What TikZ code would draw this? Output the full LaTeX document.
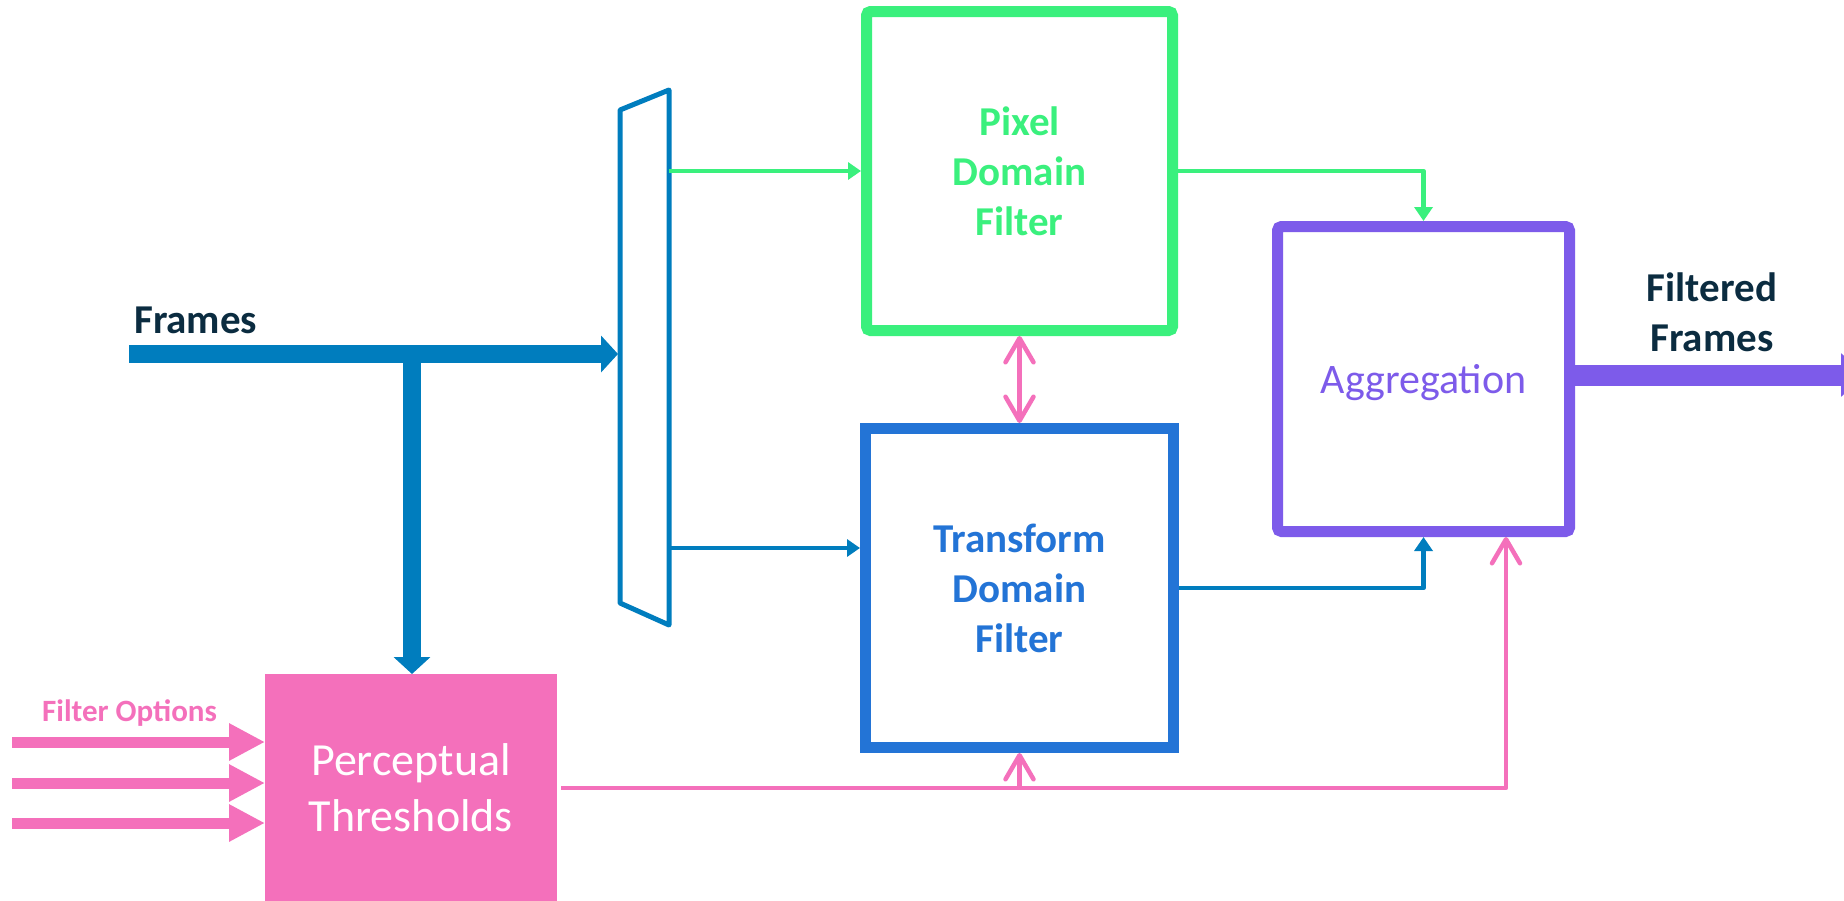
\documentclass[tikz,border=0pt]{standalone}
\usepackage{fontspec}
\setmainfont{Carlito}
\usetikzlibrary{arrows.meta}

\definecolor{cMain}{HTML}{007DBE}
\definecolor{cTf}{HTML}{2374D6}
\definecolor{cGreen}{HTML}{3AF07D}
\definecolor{cPurple}{HTML}{7D5BEA}
\definecolor{cPink}{HTML}{F470BB}
\definecolor{cNavy}{HTML}{0B2C40}

\tikzset{pinkbarb/.tip={Straight Barb[length=24pt,width=28pt,round]}}

\begin{document}
\begin{tikzpicture}[x=1pt,y=-1pt,
  filterbox/.style={draw, line width=11pt, fill=white, inner sep=0pt,
    minimum width=306pt, minimum height=319pt, align=center},
  boldtext/.style={font=\bfseries\fontsize{41}{50}\selectfont},
  thinline/.style={line width=4.5pt, line join=round},
  smalltip/.style={-{Triangle[length=14pt,width=18pt]}},
  fatarrow/.style={line width=18pt, -{Triangle[length=17pt,width=36pt]}}]

\useasboundingbox (0,0) rectangle (1844,900);
\clip (0,0) rectangle (1844,900);
\fill[white] (0,0) rectangle (1844,900);

% --- blocks ---
\node[filterbox, draw=cGreen, rounded corners=4pt, text=cGreen, boldtext]
  (pdf) at (1019.5,171) {Pixel\\Domain\\Filter};
\node[filterbox, draw=cTf, text=cTf, boldtext, minimum width=308pt]
  (tdf) at (1019.5,588) {Transform\\Domain\\Filter};
\node[filterbox, draw=cPurple, rounded corners=4pt, text=cPurple,
  minimum width=292pt, minimum height=305pt, text depth=0pt,
  font=\fontsize{42}{50}\selectfont]
  (agg) at (1423.5,379) {Aggregation};
\node[fill=cPink, text=white, align=center, inner sep=0pt, outer sep=0pt,
  minimum width=292pt, minimum height=228pt,
  font=\fontsize{46}{56}\selectfont]
  (pt) at (411,788) {Perceptual\\Thresholds};

% --- labels ---
\node[anchor=base west, inner sep=0pt, text=cNavy, boldtext]
  (lblin) at (134,333) {Frames};
\node[inner sep=0pt, text=cNavy, boldtext, align=center]
  (lblout) at (1712,312) {Filtered\\Frames};
\node[anchor=base west, inner sep=0pt, text=cPink,
  font=\bfseries\fontsize{31}{37}\selectfont]
  (lblopt) at (42,721) {Filter Options};

% --- splitter ---
\coordinate (mTL) at (620,110);
\coordinate (mTR) at (669,90);
\coordinate (mBR) at (669,625);
\coordinate (mBL) at (620,603);
\draw[cMain, line width=5pt, line join=round] (mTL) -- (mTR) -- (mBR) -- (mBL) -- cycle;

% --- input frames ---
\coordinate (fin) at (129,354);
\coordinate (muxin) at (618,354);
\coordinate (tee) at (412,346);
\draw[cMain, fatarrow] (fin) -- (muxin);
\draw[cMain, fatarrow] (tee) -- (tee |- pt.north);

% --- splitter outputs ---
\coordinate (mo1) at (669,171);
\coordinate (mo2) at (669,548);
\draw[cGreen, thinline, -{Triangle[length=13pt,width=17pt]}] (mo1) -- (pdf.west);
\draw[cMain, thinline, -{Triangle[length=13pt,width=17pt]}] (mo2) -- (mo2 -| tdf.west);

% --- filter options ---
\coordinate (fo1) at (12,742);
\coordinate (fo2) at (12,783);
\coordinate (fo3) at (12,823);
\foreach \f in {fo1,fo2,fo3}
  \draw[cPink, line width=11pt, -{Triangle[length=36pt,width=35pt]}] (\f) -- (\f -| pt.west);

% --- filters to aggregation ---
\draw[cGreen, thinline, smalltip] (pdf.east) -| (agg.north);
\draw[cMain, thinline, smalltip] (tdf.east) -| (agg.south);
\draw[cPink, thinline, pinkbarb-pinkbarb] (pdf.south) -- (tdf.north);

% --- thresholds feed ---
\coordinate (aggin) at ([xshift=82.5pt]agg.south);
\draw[cPink, thinline, -pinkbarb] ([xshift=4pt]pt.east) -| (aggin);
\draw[cPink, thinline, -pinkbarb] (pt.east -| tdf.south) -- (tdf.south);

% --- output ---
\draw[cPurple, line width=21pt, -{Triangle[length=25pt,width=42pt]}]
  ([yshift=4pt]agg.east) -- ++(291,0);
\end{tikzpicture}
\end{document}
